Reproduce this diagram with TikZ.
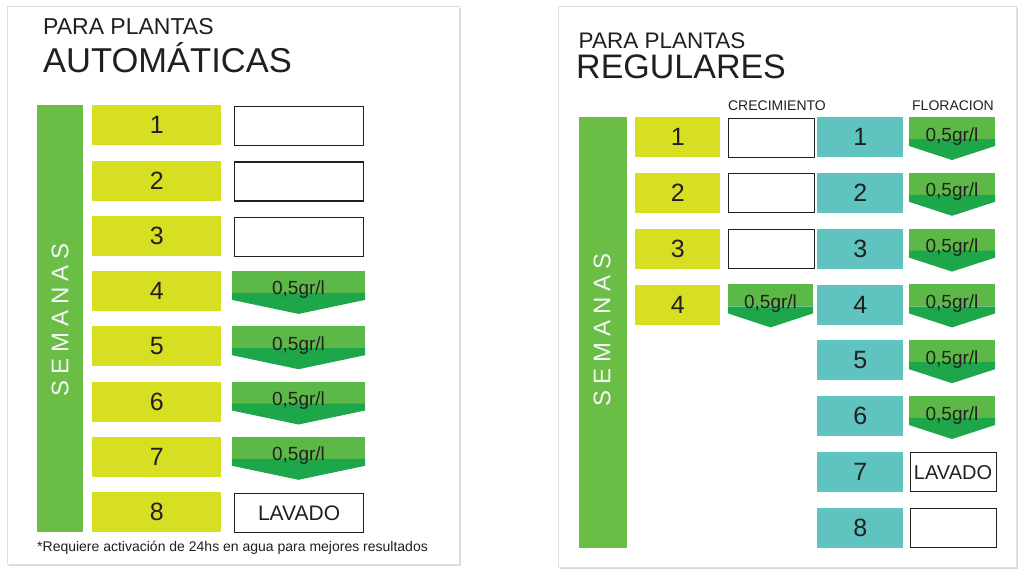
\documentclass[tikz,border=0pt]{standalone}
\usepackage{fontspec}
\setmainfont{Liberation Sans}
\usetikzlibrary{shadows}

\definecolor{verdebarra}{HTML}{6ABD45}
\definecolor{amarillo}{HTML}{D7DF23}
\definecolor{turquesa}{HTML}{5FC4C0}
\definecolor{verdeclaro}{HTML}{5CB947}
\definecolor{verdeoscuro}{HTML}{1DA64A}
\definecolor{tinta}{HTML}{231F20}

\tikzset{
	panel/.style = {fill = white, draw = black!12, line width = 0.5pt, drop shadow = {shadow xshift = 1.5pt, shadow yshift = -1.5pt, opacity = 0.3}},
	barra/.style = {fill = verdebarra},
	semana/.style = {anchor = north west, inner sep = 0, minimum height = 40pt, text = tinta, font = \fontsize{25}{25}\selectfont},
	casilla/.style = {anchor = north west, inner sep = 0, minimum height = 39pt, draw = tinta, line width = 1.2pt, fill = white, text = tinta},
	dosistxt/.style = {anchor = base, inner sep = 0, text = tinta, font = \fontsize{19}{19}\selectfont},
	titulo/.style = {anchor = base west, inner sep = 0, text = tinta},
	vertical/.style = {rotate = 90, inner sep = 0, text = black!3, font = \fontsize{24}{24}\selectfont}
}

% Arrow shaped dose box: name, left x, top y, width
\newcommand{\dosis}[4]{
	\fill [verdeclaro] (#2, #3) -- (#2 + #4, #3) -- (#2 + #4, #3 + 22) -- (#2, #3 + 22) -- cycle;
	\fill [verdeoscuro] (#2, #3 + 22) -- (#2 + #4, #3 + 22) -- (#2 + #4, #3 + 29) -- (#2 + 0.5 * #4, #3 + 43) -- (#2, #3 + 29) -- cycle;
	\node [dosistxt] (#1) at (#2 + 0.5 * #4, #3 + 24) {0,5gr/l};
}

\begin{document}
\begin{tikzpicture}[x = 1pt, y = -1pt]

	% Definitions

	\def\A{55.3}	% Row pitch, left panel
	\def\B{55.8}	% Row pitch, right panel

	\useasboundingbox (0, 0) rectangle (1024, 576);
	\fill [white] (0, 0) rectangle (1024, 576);

	% Panels

	\draw [panel] (7, 6) rectangle (459, 564);
	\draw [panel] (558, 6) rectangle (1016, 567);

	% Left panel: titles

	\node [titulo, font = \fontsize{23}{23}\selectfont] (tituloA) at (43, 34) {PARA PLANTAS};
	\node [titulo, font = \fontsize{34.5}{34.5}\selectfont] (autom) at (43, 72) {AUTOMÁTICAS};

	% Left panel: weeks bar

	\fill [barra] (37, 105) rectangle (83, 532);
	\node [vertical] (semanasA) at (60, 320) {S\kern6pt E\kern6pt M\kern6pt A\kern6pt N\kern6pt A\kern6pt S};

	% Left panel: weeks

	\node [semana, fill = amarillo, minimum width = 129pt] (a1) at (92, 105) {1};
	\node [semana, fill = amarillo, minimum width = 129pt] (a2) at (92, 105 + \A) {2};
	\node [semana, fill = amarillo, minimum width = 129pt] (a3) at (92, 105 + 2 * \A) {3};
	\node [semana, fill = amarillo, minimum width = 129pt] (a4) at (92, 105 + 3 * \A) {4};
	\node [semana, fill = amarillo, minimum width = 129pt] (a5) at (92, 105 + 4 * \A) {5};
	\node [semana, fill = amarillo, minimum width = 129pt] (a6) at (92, 105 + 5 * \A) {6};
	\node [semana, fill = amarillo, minimum width = 129pt] (a7) at (92, 105 + 6 * \A) {7};
	\node [semana, fill = amarillo, minimum width = 129pt] (a8) at (92, 105 + 7 * \A) {8};

	% Left panel: doses

	\node [casilla, minimum width = 129pt] (ca1) at (234, 106) {};
	\node [casilla, minimum width = 129pt] (ca2) at (234, 106 + \A) {};
	\node [casilla, minimum width = 129pt] (ca3) at (234, 106 + 2 * \A) {};
	\dosis{da4}{232}{105 + 3 * \A}{133}
	\dosis{da5}{232}{105 + 4 * \A}{133}
	\dosis{da6}{232}{105 + 5 * \A}{133}
	\dosis{da7}{232}{105 + 6 * \A}{133}
	\node [casilla, minimum width = 129pt, font = \fontsize{21}{21}\selectfont] (ca8) at (234, 106 + 7 * \A) {LAVADO};

	% Footnote

	\node [titulo, font = \fontsize{14}{14}\selectfont] (nota) at (37, 551) {*Requiere activación de 24hs en agua para mejores resultados};

	% Right panel: titles

	\node [titulo, font = \fontsize{22.5}{22.5}\selectfont] (tituloB) at (578.5, 48) {PARA PLANTAS};
	\node [titulo, font = \fontsize{34}{34}\selectfont] (regul) at (576, 78) {REGULARES};
	\node [anchor = base, inner sep = 0, text = tinta, font = \fontsize{14}{14}\selectfont] (crec) at (777, 110) {CRECIMIENTO};
	\node [anchor = base, inner sep = 0, text = tinta, font = \fontsize{14}{14}\selectfont] (flor) at (953, 110) {FLORACION};

	% Right panel: weeks bar

	\fill [barra] (579, 117) rectangle (627, 548);
	\node [vertical] (semanasB) at (602, 330) {S\kern6pt E\kern6pt M\kern6pt A\kern6pt N\kern6pt A\kern6pt S};

	% Right panel: growth weeks

	\node [semana, fill = amarillo, minimum width = 85pt] (b1) at (635, 117) {1};
	\node [semana, fill = amarillo, minimum width = 85pt] (b2) at (635, 117 + \B) {2};
	\node [semana, fill = amarillo, minimum width = 85pt] (b3) at (635, 117 + 2 * \B) {3};
	\node [semana, fill = amarillo, minimum width = 85pt] (b4) at (635, 117 + 3 * \B) {4};

	\node [casilla, minimum width = 86pt, line width = 1pt] (cb1) at (727.5, 117.5) {};
	\node [casilla, minimum width = 86pt, line width = 1pt] (cb2) at (727.5, 117.5 + \B) {};
	\node [casilla, minimum width = 86pt, line width = 1pt] (cb3) at (727.5, 117.5 + 2 * \B) {};
	\dosis{db4}{728}{117 + 3 * \B}{85}

	% Right panel: flowering weeks

	\node [semana, fill = turquesa, minimum width = 86pt] (f1) at (817, 117) {1};
	\node [semana, fill = turquesa, minimum width = 86pt] (f2) at (817, 117 + \B) {2};
	\node [semana, fill = turquesa, minimum width = 86pt] (f3) at (817, 117 + 2 * \B) {3};
	\node [semana, fill = turquesa, minimum width = 86pt] (f4) at (817, 117 + 3 * \B) {4};
	\node [semana, fill = turquesa, minimum width = 86pt] (f5) at (817, 117 + 4 * \B) {5};
	\node [semana, fill = turquesa, minimum width = 86pt] (f6) at (817, 117 + 5 * \B) {6};
	\node [semana, fill = turquesa, minimum width = 86pt] (f7) at (817, 117 + 6 * \B) {7};
	\node [semana, fill = turquesa, minimum width = 86pt] (f8) at (817, 117 + 7 * \B) {8};

	\dosis{df1}{909}{117}{86}
	\dosis{df2}{909}{117 + \B}{86}
	\dosis{df3}{909}{117 + 2 * \B}{86}
	\dosis{df4}{909}{117 + 3 * \B}{86}
	\dosis{df5}{909}{117 + 4 * \B}{86}
	\dosis{df6}{909}{117 + 5 * \B}{86}
	\node [casilla, minimum width = 86pt, line width = 1pt, font = \fontsize{20}{20}\selectfont] (cf7) at (909.5, 117.5 + 6 * \B) {LAVADO};
	\node [casilla, minimum width = 86pt, line width = 1pt] (cf8) at (909.5, 117.5 + 7 * \B) {};

\end{tikzpicture}
\end{document}
